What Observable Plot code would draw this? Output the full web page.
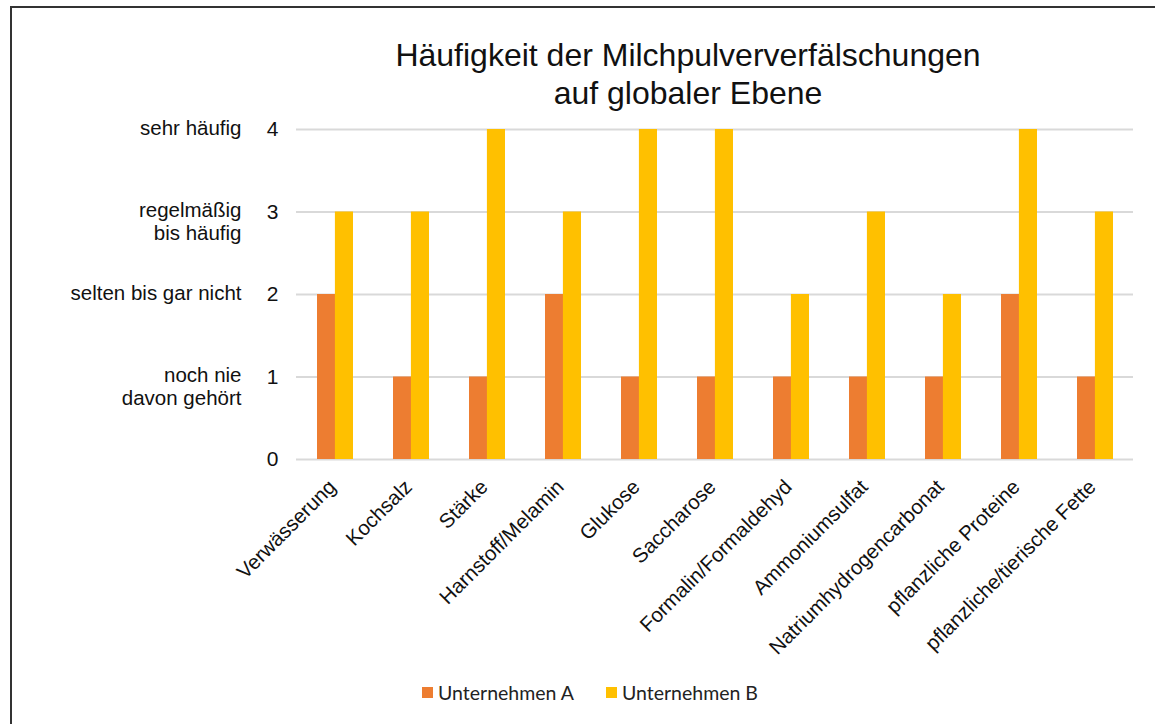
<!DOCTYPE html>
<html>
<head>
<meta charset="utf-8">
<script src="https://cdn.jsdelivr.net/npm/d3@7"></script>
<script src="https://cdn.jsdelivr.net/npm/@observablehq/plot@0.6"></script>
<style>
  html, body { margin: 0; padding: 0; background: #fff; }
  #page { position: relative; width: 1155px; height: 724px; overflow: hidden; font-family: 'Liberation Sans', Arial, sans-serif; }
  #frame { position: absolute; left: 10px; top: 6px; width: 1200px; height: 800px; border-left: 2px solid #333; border-top: 2px solid #333; }
  #title { position: absolute; left: 288px; width: 800px; top: 36px; text-align: center; font-size: 32px; line-height: 38px; color: #111; }
  #chart { position: absolute; left: 0; top: 112px; }
  #legend { position: absolute; top: 681px; left: 422px; display: flex; gap: 32px; font-family: Lato, 'Open Sans', sans-serif; font-size: 19.5px; color: #222; }
  .item { display: flex; align-items: center; gap: 5px; }
  .sw { width: 11px; height: 11px; display: inline-block; }
</style>
</head>
<body>
<div id="page">
  <div id="frame"></div>
  <div id="title">Häufigkeit der Milchpulververfälschungen<br>auf globaler Ebene</div>
  <div id="chart"></div>
  <div id="legend"></div>
</div>
<script>
const categories = ["Verwässerung", "Kochsalz", "Stärke", "Harnstoff/Melamin", "Glukose", "Saccharose", "Formalin/Formaldehyd", "Ammoniumsulfat", "Natriumhydrogencarbonat", "pflanzliche Proteine", "pflanzliche/tierische Fette"];
const seriesNames = ["Unternehmen A", "Unternehmen B"];
const valuesA = [2, 1, 1, 2, 1, 1, 1, 1, 1, 2, 1];
const valuesB = [3, 3, 4, 3, 4, 4, 2, 3, 2, 4, 3];
const seriesColors = ["#ED7D31", "#FFC000"];
const yTicks = [0, 1, 2, 3, 4];
const yLabels = ["", "noch nie\ndavon gehört", "selten bis gar nicht", "regelmäßig\nbis häufig", "sehr häufig"];

const dataA = categories.map((c, i) => ({cat: c, series: seriesNames[0], value: valuesA[i]}));
const dataB = categories.map((c, i) => ({cat: c, series: seriesNames[1], value: valuesB[i]}));

const chart = Plot.plot({
  width: 1155,
  height: 560,
  marginLeft: 296,
  marginRight: 22,
  marginTop: 17,
  marginBottom: 213,
  style: {fontFamily: "'Liberation Sans', Arial, sans-serif", fontSize: "20px", color: "#111", background: "transparent", overflow: "visible"},
  x: {domain: categories, paddingInner: 0.53, paddingOuter: 0.265, label: null},
  y: {domain: [0, 4], label: null},
  color: {domain: seriesNames, range: seriesColors},
  marks: [
    Plot.ruleY(yTicks, {y: d => d, stroke: "#d9d9d9", strokeWidth: 2}),
    Plot.barY(dataA, {x: "cat", y: "value", fill: "series", insetRight: 17.9}),
    Plot.barY(dataB, {x: "cat", y: "value", fill: "series", insetLeft: 17.9}),
    Plot.axisY(yTicks, {tickSize: 0, tickPadding: 18, label: null, tickFormat: d => String(d), fontSize: 21}),
    Plot.axisY(yTicks, {tickSize: 0, tickPadding: 55, label: null, tickFormat: d => yLabels[d], lineAnchor: "top", lineHeight: 1.1, dy: -11, fontSize: 20.5}),
    Plot.axisX({tickSize: 0, tickPadding: 24, dx: -3, tickRotate: -45, textAnchor: "end", label: null, fontSize: 20.5})
  ]
});
document.getElementById("chart").appendChild(chart);

const legend = document.getElementById("legend");
seriesNames.forEach((name, i) => {
  const item = document.createElement("div");
  item.className = "item";
  const sw = document.createElement("span");
  sw.className = "sw";
  sw.style.background = seriesColors[i];
  const label = document.createElement("span");
  label.textContent = name;
  item.appendChild(sw);
  item.appendChild(label);
  legend.appendChild(item);
});
</script>
</body>
</html>
